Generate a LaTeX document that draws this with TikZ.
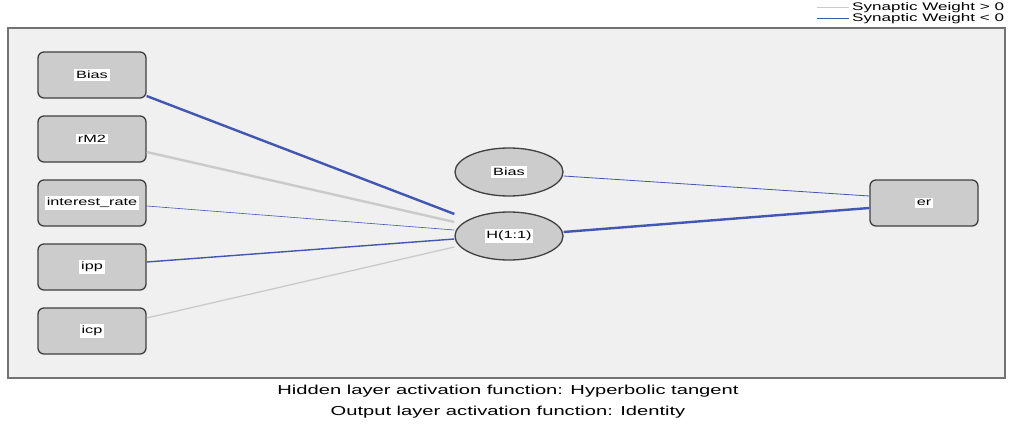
\documentclass[tikz,border=0pt]{standalone}
\usepackage{fontspec}
\setmainfont[FakeStretch=1.55]{Liberation Sans}
\usetikzlibrary{shapes.geometric}
\definecolor{wneg}{HTML}{4256B4}
\definecolor{wpos}{HTML}{CACACA}
\begin{document}
\begin{tikzpicture}[x=1pt,y=-1pt,
  neuronbox/.style={draw=black!75, line width=1.3pt, fill=black!20, rounded corners=6pt, minimum width=108pt, minimum height=46pt, inner sep=0pt},
  neuronell/.style={ellipse, draw=black!75, line width=1.3pt, fill=black!20, minimum width=108pt, minimum height=48pt, inner sep=0pt},
  lbl/.style={fill=white, inner sep=1.8pt, font=\fontsize{10.5}{12}\selectfont},
  poswt/.style={draw=wpos},
  negwt/.style={draw=wneg},
]
\useasboundingbox (0,0) rectangle (1010,428);
% panel
\draw[draw=black!55, line width=1.4pt, fill=black!6] (8,28) rectangle (1005,378);
% legend
\coordinate (lg1a) at (817,8); \coordinate (lg1b) at (849,8);
\coordinate (lg2a) at (817,19); \coordinate (lg2b) at (849,19);
\draw[poswt, line width=1pt] (lg1a) -- (lg1b);
\draw[negwt, line width=1pt] (lg2a) -- (lg2b);
\node[anchor=west, inner sep=0pt, font=\fontsize{11}{12}\selectfont] (leg1) at (852,8) {Synaptic Weight > 0};
\node[anchor=west, inner sep=0pt, font=\fontsize{11}{12}\selectfont] (leg2) at (852,19) {Synaptic Weight < 0};
% input nodes
\node[neuronbox] (i1) at (92,75) {};
\node[lbl] at (i1) {Bias};
\node[neuronbox] (i2) at (92,139) {};
\node[lbl] at (i2) {rM2};
\node[neuronbox] (i3) at (92,203) {};
\node[lbl] at (i3) {interest\_rate};
\node[neuronbox] (i4) at (92,267) {};
\node[lbl] at (i4) {ipp};
\node[neuronbox] (i5) at (92,331) {};
\node[lbl] at (i5) {icp};
% hidden
\node[neuronell] (hb) at (509,172) {};
\node[lbl] at (hb) {Bias};
\node[neuronell] (h) at (509,236) {};
\node[lbl] at (h) {H(1:1)};
% output
\node[neuronbox] (o) at (924,203) {};
\node[lbl] at (o) {er};
% coordinates on node edges
\coordinate (h1) at ([yshift=22pt]h.west);
\coordinate (h2) at ([yshift=14pt]h.west);
\coordinate (h3) at ([yshift=6pt]h.west);
\coordinate (h4) at ([yshift=-3pt]h.west);
\coordinate (h5) at ([yshift=-11pt]h.west);
% connectors
\draw[negwt, line width=2.4pt] ([yshift=-21pt]i1.east) -- (h1);
\draw[poswt, line width=2.4pt] ([yshift=-13pt]i2.east) -- (h2);
\draw[negwt, line width=0.6pt] ([yshift=-3pt]i3.east) -- (h3);
\draw[negwt, line width=1.4pt] ([yshift=5pt]i4.east) -- (h4);
\draw[poswt, line width=1.3pt] ([yshift=13pt]i5.east) -- (h5);
\draw[negwt, line width=0.8pt] ([yshift=-4pt]hb.east) -- ([yshift=7pt]o.west);
\draw[negwt, line width=2.4pt] ([yshift=4pt]h.east) -- ([yshift=-5pt]o.west);
% caption
\node[font=\fontsize{13}{14}\selectfont, inner sep=0pt] (c1) at (508,391) {Hidden layer activation function: Hyperbolic tangent};
\node[font=\fontsize{13}{14}\selectfont, inner sep=0pt] (c2) at (508,412) {Output layer activation function: Identity};
\end{tikzpicture}
\end{document}
